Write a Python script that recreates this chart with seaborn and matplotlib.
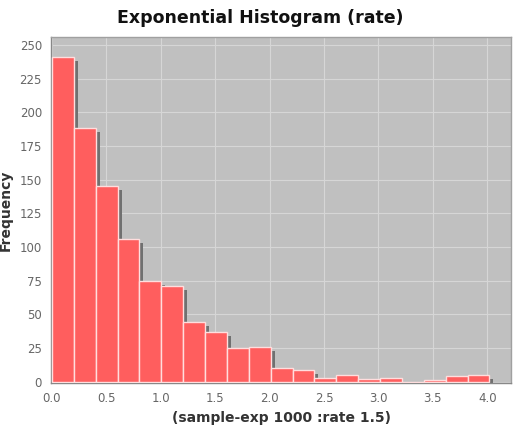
import numpy as np
import pandas as pd
import matplotlib
matplotlib.use("Agg")
import matplotlib.pyplot as plt
import matplotlib.transforms as mtransforms
import seaborn as sns

# histogram of 1000 samples from exp(rate=1.5), counts
bin_start = 0.0
bin_width = 0.201
counts = [241, 188, 145, 106, 75, 71, 44, 37, 25, 26,
          10, 9, 3, 5, 2, 3, 0, 1, 4, 5]
x_ticks = [0.0, 0.5, 1.0, 1.5, 2.0, 2.5, 3.0, 3.5, 4.0]
y_ticks = [0, 25, 50, 75, 100, 125, 150, 175, 200, 225, 250]

edges = bin_start + bin_width * np.arange(len(counts) + 1)
df = pd.DataFrame({"x": (edges[:-1] + edges[1:]) / 2, "count": counts})

sns.set_style("white")
fig = plt.figure(figsize=(5.2, 4.29), dpi=100)
ax = fig.add_axes([0.098, 0.107, 0.885, 0.807])
ax.set_facecolor("#c0c0c0")

sns.histplot(data=df, x="x", weights="count", bins=edges.tolist(), ax=ax,
             color="#ff5e5e", alpha=1.0, edgecolor="#ffdede", linewidth=1.0,
             zorder=3)

# JFreeChart-like drop shadow behind each bar
bars = list(ax.patches)
for p in bars:
    sh = plt.Rectangle(p.get_xy(), p.get_width(), p.get_height(),
                       facecolor="#707070", edgecolor="none", zorder=2,
                       transform=mtransforms.offset_copy(ax.transData, fig=fig,
                                                         x=4, y=-4, units="dots"))
    sh.set_clip_path(ax.patch)
    ax.add_patch(sh)

ax.set_xlim(-0.009, 4.22)
ax.set_ylim(-1, 256)
ax.set_xticks(x_ticks)
ax.set_xticklabels([f"{t:.1f}" for t in x_ticks])
ax.set_yticks(y_ticks)
ax.grid(True, color="#d6d6d6", linewidth=0.8, linestyle="-", zorder=0)
ax.set_axisbelow(True)

for side in ["top", "right"]:
    ax.spines[side].set_color("#a0a0a0")
    ax.spines[side].set_linewidth(1.0)
for side in ["left", "bottom"]:
    ax.spines[side].set_color("#888888")
    ax.spines[side].set_linewidth(1.0)
ax.tick_params(axis="both", colors="#888888", length=3, width=0.8,
               labelcolor="#666666", labelsize=8.5, direction="out")

ax.set_xlabel("(sample-exp 1000 :rate 1.5)", fontsize=10, fontweight="bold",
              color="#333333", labelpad=4)
ax.set_ylabel("Frequency", fontsize=10, fontweight="bold", color="#333333",
              labelpad=5)
fig.suptitle("Exponential Histogram (rate)", fontsize=12.5, fontweight="bold",
             x=0.5, y=0.98, color="#111111")

fig.savefig("out.png", dpi=100, facecolor="white")
